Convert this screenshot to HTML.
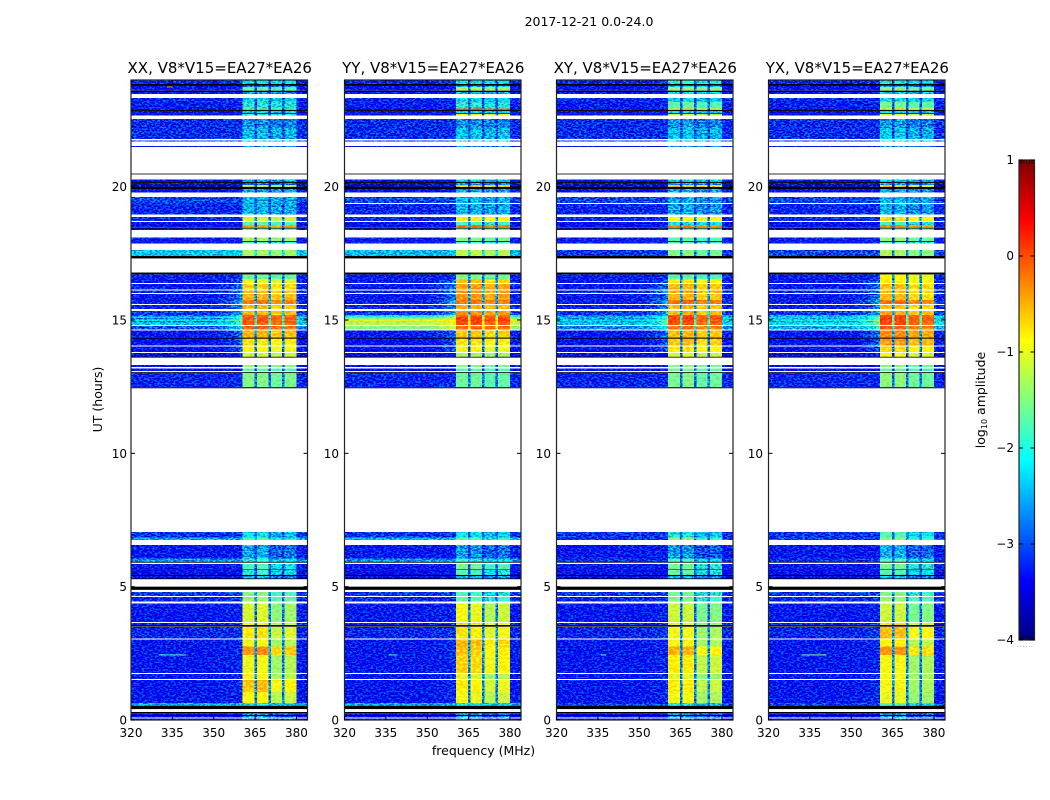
<!DOCTYPE html>
<html lang="en">
<head>
<meta charset="utf-8">
<title>2017-12-21 0.0-24.0</title>
<style>
html,body{margin:0;padding:0;background:#fff;}
svg{display:block;}
text{font-family:"DejaVu Sans","Liberation Sans",sans-serif;fill:#000;}
.tick{font-size:12px;}
.axis-label{font-size:12.5px;}
.panel-title{font-size:15px;}
</style>
</head>
<body>
<svg id="chart" xmlns="http://www.w3.org/2000/svg" width="1050" height="800" viewBox="0 0 1050 800">
  <defs>
    <filter id="speckle" filterUnits="userSpaceOnUse" x="120" y="70" width="840" height="660" color-interpolation-filters="sRGB">
      <feTurbulence type="fractalNoise" baseFrequency="0.38 0.66" numOctaves="2" seed="7" result="noise"/>
      <feColorMatrix in="noise" type="matrix" values="0 0 0 0 0.5  4 0 0 0 -1.6  2 0 0 0 -0.5  0 0 0 0 1" result="grain"/>
      <feComposite in="SourceGraphic" in2="grain" operator="arithmetic" k1="0" k2="1" k3="0.7" k4="-0.35" result="mixed"/>
      <feComposite in="mixed" in2="SourceAlpha" operator="in"/>
    </filter>
    <filter id="soft-speckle" filterUnits="userSpaceOnUse" x="120" y="70" width="840" height="660" color-interpolation-filters="sRGB">
      <feTurbulence type="fractalNoise" baseFrequency="0.3 0.5" numOctaves="2" seed="11" result="noise"/>
      <feColorMatrix in="noise" type="matrix" values="0 0 0 0 0.5  4 0 0 0 -1.6  2 0 0 0 -0.5  0 0 0 0 1" result="grain"/>
      <feComposite in="SourceGraphic" in2="grain" operator="arithmetic" k1="0" k2="1" k3="0.22" k4="-0.09" result="mixed"/>
      <feComposite in="mixed" in2="SourceAlpha" operator="in"/>
    </filter>
  </defs>
  <text x="589" y="26" text-anchor="middle" class="axis-label">2017-12-21 0.0-24.0</text>
  <text x="483.5" y="755" text-anchor="middle" class="axis-label">frequency (MHz)</text>
  <text x="0" y="0" transform="translate(102,399.5) rotate(-90)" text-anchor="middle" class="axis-label">UT (hours)</text>
  <text x="0" y="0" transform="translate(985,400) rotate(-90)" text-anchor="middle" class="axis-label">log<tspan font-size="8" dy="2">10</tspan><tspan dy="-2"> amplitude</tspan></text>
  <g id="panels"></g>
  <g id="colorbar"></g>
</svg>
<script>
// ---- Data (log10 amplitude) ----
const panelTitles = ["XX, V8*V15=EA27*EA26", "YY, V8*V15=EA27*EA26", "XY, V8*V15=EA27*EA26", "YX, V8*V15=EA27*EA26"];
const freqTicks = [320, 335, 350, 365, 380];
const utTicks = [0, 5, 10, 15, 20];
const colorbarTicks = [1, 0, -1, -2, -3, -4];

const freqEdges = [320, 350, 352, 354, 356, 358, 359.5, 360.5, 364.8, 365.6, 369.8, 370.7, 374.8, 375.7, 380, 381, 384];
// channel response: a number is a shoulder blend background->band, "band0".."band3" index the subband offsets, "gap" a subband edge
const channelKinds = [0, 0.03, 0.06, 0.1, 0.16, 0.22, 0.3, "band0", "gap", "band1", "gap", "band2", "gap", "band3", 0.09, 0.03];
const gapResponse = [0.25];

const rowTopUT = [
24.0,23.79,23.73,23.55,23.33,23.18,22.93,22.84,22.73,22.54,
22.2,21.73,21.53,20.27,20.14,20.06,19.91,19.61,19.39,19.35,
18.87,18.68,18.56,18.43,18.09,17.93,17.63,16.71,16.54,16.35,
16.1,15.98,15.75,15.56,15.34,15.19,15.13,15.08,15.02,14.96,
14.91,14.78,14.6,14.3,14.01,13.76,13.31,13.19,13.02,7.05,
6.85,6.56,6.06,5.85,5.63,5.4,4.8,4.61,4.36,3.64,
3.48,3.01,2.75,2.44,1.73,1.5,1.05,0.63,0.25,0.15,
0.06];
const rowBottomUT = [
23.85,23.73,23.6,23.48,23.18,22.93,22.88,22.76,22.66,22.2,
21.79,21.69,21.48,20.18,20.06,19.99,19.78,19.39,19.35,18.96,
18.71,18.56,18.46,18.38,17.96,17.86,17.4,16.54,16.39,16.15,
16.02,15.75,15.6,15.41,15.19,15.13,15.08,15.02,14.96,14.91,
14.81,14.65,14.34,14.05,13.8,13.62,13.23,13.09,12.48,6.85,
6.75,6.06,5.93,5.65,5.44,5.31,4.65,4.44,3.68,3.56,
3.05,2.75,2.44,1.76,1.54,1.05,0.63,0.53,0.19,0.09,
0];
// how strongly each integration leaks out of the band edge
const shoulderStrength = [
0.15,0.15,0.15,0.15,0.15,0.15,0.15,0.15,0.15,0.15,
0.15,0.15,0.15,0.15,0.15,0.15,0.15,0.15,0.15,0.15,
0.15,0.15,0.15,0.15,0.15,0.15,0.15,0.3,0.7,0.7,
0.7,0.7,1,0.8,0.8,1,1,1,1,1,
1,1,0.7,0.7,0.7,0.4,0.1,0.1,0.1,0.05,
0.05,0.05,0.05,0.05,0.05,0.05,0.2,0.2,0.2,0.2,
0.2,0.2,0.2,0.2,0.2,0.2,0.2,0.05,0.05,0.05,
0.05];

const xxBackground = [
-3.2,-3.4,-3.3,-3.3,-3.2,-3.25,-3.3,-3.5,-3.4,-3.15,
-3.15,-3.2,-3.5,-3.4,-3.7,-3.8,-3.4,-3.0,-3.1,-3.2,
-3.2,-3.5,-3.4,-3.5,-3.3,-3.3,-2.3,-3.25,-3.3,-3.3,
-3.2,-3.3,-3.25,-3.25,-3.1,-2.8,-2.2,-2.7,-2.1,-2.6,
-2.3,-2.9,-3.3,-3.4,-3.4,-3.6,-3.4,-3.4,-3.2,-3.1,
-2.5,-3.3,-2.6,-3.3,-3.4,-3.5,-3.1,-3.2,-3.3,-3.25,
-3.2,-3.3,-3.3,-3.3,-3.3,-3.3,-3.3,-2.45,-3.4,-3.4,
-3.4];
const yyBackground = [
-3.2,-3.4,-3.3,-3.3,-3.2,-3.25,-3.3,-3.5,-3.4,-3.15,
-3.15,-3.2,-3.5,-3.4,-3.7,-3.8,-3.4,-3.0,-3.1,-3.2,
-3.2,-3.5,-3.4,-3.5,-3.3,-3.3,-2.4,-3.25,-3.3,-3.3,
-3.2,-3.3,-3.25,-3.25,-3.1,-2.2,-1.8,-1.5,-1.0,-1.4,
-1.2,-1.5,-3.3,-3.4,-3.4,-3.6,-3.4,-3.4,-3.2,-3.1,
-2.45,-3.3,-2.6,-3.3,-3.4,-3.5,-3.1,-3.2,-3.3,-3.25,
-3.2,-3.3,-3.3,-3.3,-3.3,-3.3,-3.3,-2.5,-3.4,-3.4,
-3.4];
const xyBackground = [
-3.2,-3.4,-3.3,-3.3,-3.2,-3.25,-3.3,-3.5,-3.4,-3.15,
-3.15,-3.2,-3.5,-3.4,-3.7,-3.8,-3.4,-3.0,-3.1,-3.2,
-3.2,-3.5,-3.4,-3.5,-3.3,-3.3,-3.1,-3.25,-3.3,-3.3,
-3.2,-3.3,-3.25,-3.25,-3.1,-2.7,-2.4,-2.6,-2.2,-2.5,
-2.3,-2.7,-3.3,-3.4,-3.4,-3.6,-3.4,-3.4,-3.2,-3.1,
-3.1,-3.3,-3.1,-3.3,-3.4,-3.5,-3.1,-3.2,-3.3,-3.25,
-3.2,-3.3,-3.3,-3.3,-3.3,-3.3,-3.3,-3.0,-3.4,-3.4,
-3.4];
const yxBackground = [
-3.2,-3.4,-3.3,-3.3,-3.2,-3.25,-3.3,-3.5,-3.4,-3.15,
-3.15,-3.2,-3.5,-3.4,-3.7,-3.8,-3.4,-3.0,-3.1,-3.2,
-3.2,-3.5,-3.4,-3.5,-3.3,-3.3,-3.0,-3.25,-3.3,-3.3,
-3.2,-3.3,-3.25,-3.25,-3.1,-2.5,-2.2,-2.4,-2.0,-2.4,
-2.1,-2.5,-3.3,-3.4,-3.4,-3.6,-3.4,-3.4,-3.2,-3.1,
-3.0,-3.3,-3.1,-3.3,-3.4,-3.5,-3.1,-3.2,-3.3,-3.25,
-3.2,-3.3,-3.3,-3.3,-3.3,-3.3,-3.3,-3.0,-3.4,-3.4,
-3.4];

const xxBand = [
-2.1,-2.6,-1.7,-2.6,-2.2,-1.9,-1.6,-2.2,-1.9,-2.6,
-2.35,-2.0,-2.6,-2.4,-2.8,-1.2,-2.5,-2.4,-2.4,-2.4,
-1.1,-1.7,-0.4,-1.6,-1.3,-1.8,-1.3,-1.6,-1.0,-0.65,
-0.55,-0.5,-0.2,-0.55,-0.5,-0.1,-0.05,0,-0.05,0,
-0.1,-0.1,-0.5,-0.75,-0.9,-1.1,-1.4,-1.7,-1.5,-2.1,
-1.7,-2.5,-1.9,-1.8,-1.9,-2.4,-1.5,-1.4,-1.1,-0.9,
-0.8,-1.0,-0.35,-1.0,-0.95,-0.6,-0.9,-2.0,-2.5,-2.6,
-2.6];
const yyBand = [
-2.0,-2.4,-1.3,-2.4,-2.2,-1.9,-0.1,-2.2,-1.0,-2.6,
-2.3,-1.9,-2.6,-2.2,-2.6,-0.6,-2.5,-2.4,null,-2.4,
-0.8,-1.8,-0.2,-1.6,-1.5,-1.8,-1.2,-1.5,-0.6,-0.4,
-0.35,-0.35,-0.2,-0.5,-0.35,-0.15,0.05,0.1,0.1,0.05,
0,-0.1,-0.6,-0.75,-0.95,-1.3,-1.5,-1.7,-1.6,-2.1,
-1.7,-2.6,-1.9,-1.6,-1.8,-2.4,-1.8,-1.7,-1.0,-0.7,
-0.8,-0.55,-0.65,-0.7,-1.1,-0.85,-1.0,-2.0,-2.5,-2.6,
-2.6];
const xyBand = [
-1.9,-2.2,-1.4,-2.2,-2.2,-1.7,-0.8,-2.2,-1.2,-2.6,
-2.35,-2.0,-2.6,-2.1,-2.6,-0.7,-2.5,-2.5,null,-2.5,
-0.9,-2.0,-0.3,-1.6,-1.7,-1.8,-1.5,-1.7,-0.8,-0.55,
-0.45,-0.55,-0.15,-0.55,-0.5,-0.05,0,0.05,0,0.05,
-0.05,-0.2,-0.55,-0.6,-0.8,-1.1,-1.5,-1.6,-1.55,-2.0,
-1.5,-2.6,-1.8,-1.6,-1.7,-2.4,-1.6,-1.55,-1.2,-1.1,
-1.0,-1.0,-0.55,-0.85,-1.1,-0.85,-1.0,-2.0,-2.5,-2.6,
-2.6];
const yxBand = [
-2.0,-2.4,-1.5,-2.3,-2.1,-1.6,-0.8,-2.2,-1.1,-2.6,
-2.35,-2.0,-2.6,-2.2,-2.6,-0.7,-2.5,-2.4,null,-2.5,
-0.75,-1.9,-0.3,-1.6,-1.5,-1.8,-1.35,-0.9,-0.85,-0.6,
-0.6,-0.6,-0.2,-0.6,-0.5,-0.05,0,0.05,0.05,0,
-0.05,-0.1,-0.35,-0.45,-0.75,-1.0,-1.5,-1.7,-1.5,-1.8,
-1.5,-2.5,-1.8,-1.6,-1.8,-2.4,-1.55,-1.45,-1.2,-0.8,
-0.6,-0.9,-0.4,-1.0,-1.0,-1.0,-1.05,-1.8,-2.5,-2.6,
-2.6];

// subband offsets above 8 h and below 8 h, one list per correlation
const subbandOffsetsHigh = [[0, 0, -0.1, -0.05], [0, 0, -0.1, -0.05], [0, 0.05, -0.1, -0.05], [0.05, 0.05, -0.1, -0.1]];
const subbandOffsetsLow = [[0, 0.05, -0.35, -0.25], [0.05, 0, -0.25, -0.15], [0.05, 0.05, -0.35, -0.3], [0.05, 0.05, -0.35, -0.3]];

// flagged (black) integrations
const flaggedTopUT = [23.85,23.6,22.88,22.76,20.49,20.18,19.99,18.46,17.96,17.4,16.78,14.34,13.62,13.05,12.48,5.93,5.65,5.44,5.31,5.0,3.56,0.53,0.3,0.19];
const flaggedBottomUT = [23.79,23.55,22.84,22.73,20.46,20.14,19.91,18.43,17.93,17.31,16.71,14.3,13.59,13.02,12.44,5.9,5.63,5.4,5.28,4.88,3.5,0.41,0.25,0.15];

// narrow RFI spurs
const spurPanel = [0, 0, 1, 2, 3, 3];
const spurFreqStart = [330, 333, 336, 336, 332, 332];
const spurFreqEnd = [340, 335, 339, 338, 341, 335];
const spurUT = [2.44, 23.74, 2.44, 2.44, 2.44, 23.8];
const spurLevel = [-1.7, -0.4, -1.8, -1.6, -1.5, -1.3];

// ---- Rendering ----
const SVGNS = "http://www.w3.org/2000/svg";
const panelLeft = [131, 344.5, 556.5, 768.5];
const yLabelRight = [127, 339, 551, 763];
const panelWidth = 176.5;
const plotTop = 80, plotBottom = 720;
const freqMin = 320, freqMax = 384, utMin = 0, utMax = 24;
const cbLeft = 1019, cbRight = 1034.5, cbTop = 160, cbBottom = 640;
const vMin = -4, vMax = 1;
const smoothAbove = -1.9;

const backgrounds = [xxBackground, yyBackground, xyBackground, yxBackground];
const bands = [xxBand, yyBand, xyBand, yxBand];

function xScale(panel, mhz) {
  return panelLeft[panel] + (mhz - freqMin) / (freqMax - freqMin) * panelWidth;
}
function yScale(ut) {
  return plotBottom - (ut - utMin) / (utMax - utMin) * (plotBottom - plotTop);
}
function clamp01(v) { return Math.max(0, Math.min(1, v)); }
function jet(level) {
  const f = clamp01((level - vMin) / (vMax - vMin));
  const r = clamp01(Math.min(4 * f - 1.5, -4 * f + 4.5));
  const g = clamp01(Math.min(4 * f - 0.5, -4 * f + 3.5));
  const b = clamp01(Math.min(4 * f + 0.5, -4 * f + 2.5));
  return "rgb(" + Math.round(r * 255) + "," + Math.round(g * 255) + "," + Math.round(b * 255) + ")";
}
function svgEl(tag, parent) {
  const el = document.createElementNS(SVGNS, tag);
  parent.appendChild(el);
  return el;
}
function line(parent, x1, y1, x2, y2, color, width) {
  const l = svgEl("line", parent);
  l.setAttribute("x1", x1);
  l.setAttribute("y1", y1);
  l.setAttribute("x2", x2);
  l.setAttribute("y2", y2);
  l.setAttribute("stroke", color);
  l.setAttribute("stroke-width", width);
  return l;
}

const panelsRoot = document.getElementById("panels");

panelTitles.forEach(function (title, p) {
  const group = svgEl("g", panelsRoot);
  
  

  const cells = svgEl("g", group);
  
  
  cells.setAttribute("filter", "url(#speckle)");
  cells.setAttribute("shape-rendering", "crispEdges");

  const smoothCells = svgEl("g", group);
  
  
  smoothCells.setAttribute("filter", "url(#soft-speckle)");
  smoothCells.setAttribute("shape-rendering", "crispEdges");

  rowTopUT.forEach(function (top, r) {
    const band = bands[p][r];
    if (band === null) return;
    const bg = backgrounds[p][r];
    const offsets = top > 8 ? subbandOffsetsHigh[p] : subbandOffsetsLow[p];
    channelKinds.forEach(function (kind, c) {
      let level;
      if (kind === "gap") {
        level = bg + (band - bg) * gapResponse[0];
      } else if (typeof kind === "string") {
        level = band + offsets[Number(kind.slice(4))];
      } else {
        level = bg + (band - bg) * kind * shoulderStrength[r];
      }
      const rect = svgEl("rect", level > smoothAbove ? smoothCells : cells);
      
      
      rect.setAttribute("x", xScale(p, freqEdges[c]));
      rect.setAttribute("width", xScale(p, freqEdges[c + 1]) - xScale(p, freqEdges[c]));
      rect.setAttribute("y", yScale(top));
      rect.setAttribute("height", yScale(rowBottomUT[r]) - yScale(top));
      rect.setAttribute("fill", jet(level));
    });
  });

  spurUT.forEach(function (ut, s) {
    if (spurPanel[s] !== p) return;
    const spur = svgEl("rect", group);
    
    
    spur.setAttribute("x", xScale(p, spurFreqStart[s]));
    spur.setAttribute("width", xScale(p, spurFreqEnd[s]) - xScale(p, spurFreqStart[s]));
    spur.setAttribute("y", yScale(ut) - 0.5);
    spur.setAttribute("height", 1);
    spur.setAttribute("fill", jet(spurLevel[s]));
  });

  flaggedTopUT.forEach(function (top, f) {
    const flag = svgEl("rect", group);
    
    
    flag.setAttribute("x", xScale(p, freqMin));
    flag.setAttribute("width", panelWidth);
    flag.setAttribute("y", yScale(top));
    flag.setAttribute("height", yScale(flaggedBottomUT[f]) - yScale(top));
    flag.setAttribute("fill", "#000");
  });

  const frame = svgEl("rect", group);
  
  
  frame.setAttribute("x", panelLeft[p]);
  frame.setAttribute("y", plotTop);
  frame.setAttribute("width", panelWidth);
  frame.setAttribute("height", plotBottom - plotTop);
  frame.setAttribute("fill", "none");
  frame.setAttribute("stroke", "#222");
  frame.setAttribute("stroke-width", "1.2");

  const heading = svgEl("text", group);
  
  
  heading.setAttribute("class", "panel-title");
  heading.setAttribute("x", panelLeft[p] + panelWidth / 2 + 0.5);
  heading.setAttribute("y", 73);
  heading.setAttribute("text-anchor", "middle");
  heading.textContent = title;

  freqTicks.forEach(function (mhz) {
    const x = xScale(p, mhz);
    line(group, x, plotBottom, x, plotBottom - 4, "#000", 1);
    line(group, x, plotTop, x, plotTop + 4, "#000", 1);
    const label = svgEl("text", group);
    
    
    label.setAttribute("class", "tick");
    label.setAttribute("x", x);
    label.setAttribute("y", 737);
    label.setAttribute("text-anchor", "middle");
    label.textContent = mhz;
  });

  utTicks.forEach(function (ut) {
    const y = yScale(ut);
    const left = panelLeft[p];
    line(group, left, y, left + 4, y, "#000", 1);
    line(group, left + panelWidth, y, left + panelWidth - 4, y, "#000", 1);
    const label = svgEl("text", group);
    
    
    label.setAttribute("class", "tick");
    label.setAttribute("x", yLabelRight[p]);
    label.setAttribute("y", y + 4.5);
    label.setAttribute("text-anchor", "end");
    label.textContent = ut;
  });
});

// ---- Colorbar ----
const cbRoot = document.getElementById("colorbar");
function cbScale(level) {
  return cbBottom - (level - vMin) / (vMax - vMin) * (cbBottom - cbTop);
}
const cbRamp = svgEl("g", cbRoot);


cbRamp.setAttribute("shape-rendering", "crispEdges");
for (let i = 0; i < 240; i++) {
  const low = vMin + (vMax - vMin) * i / 240;
  const high = vMin + (vMax - vMin) * (i + 1) / 240;
  const swatch = svgEl("rect", cbRamp);
  
  
  swatch.setAttribute("x", cbLeft);
  swatch.setAttribute("width", cbRight - cbLeft);
  swatch.setAttribute("y", cbScale(high));
  swatch.setAttribute("height", cbScale(low) - cbScale(high) + 0.5);
  swatch.setAttribute("fill", jet((low + high) / 2));
}
const cbFrame = svgEl("rect", cbRoot);


cbFrame.setAttribute("x", cbLeft);
cbFrame.setAttribute("y", cbTop);
cbFrame.setAttribute("width", cbRight - cbLeft);
cbFrame.setAttribute("height", cbBottom - cbTop);
cbFrame.setAttribute("fill", "none");
cbFrame.setAttribute("stroke", "#222");
cbFrame.setAttribute("stroke-width", "1.2");
colorbarTicks.forEach(function (tick) {
  const y = cbScale(tick);
  line(cbRoot, cbLeft, y, cbLeft + 4, y, "#000", 1);
  line(cbRoot, cbRight, y, cbRight - 4, y, "#000", 1);
  const label = svgEl("text", cbRoot);
  
  
  label.setAttribute("class", "tick");
  label.setAttribute("x", cbLeft - 5);
  label.setAttribute("y", y + 4);
  label.setAttribute("text-anchor", "end");
  label.textContent = tick < 0 ? "\u2212" + Math.abs(tick) : String(tick);
});
for (let x = cbLeft + 2; x < cbRight - 1; x += 2.8) {
  line(cbRoot, x, cbTop, x, cbTop + 4, "#000", 0.8);
  line(cbRoot, x, cbBottom, x, cbBottom - 4, "#000", 0.8);
}
const cbDots = svgEl("text", cbRoot);


cbDots.setAttribute("x", 1017);
cbDots.setAttribute("y", 647);
cbDots.setAttribute("font-size", "6");
cbDots.setAttribute("letter-spacing", "0.9");
cbDots.setAttribute("style", "fill:#777");
cbDots.textContent = "......";
</script>
</body>
</html>
